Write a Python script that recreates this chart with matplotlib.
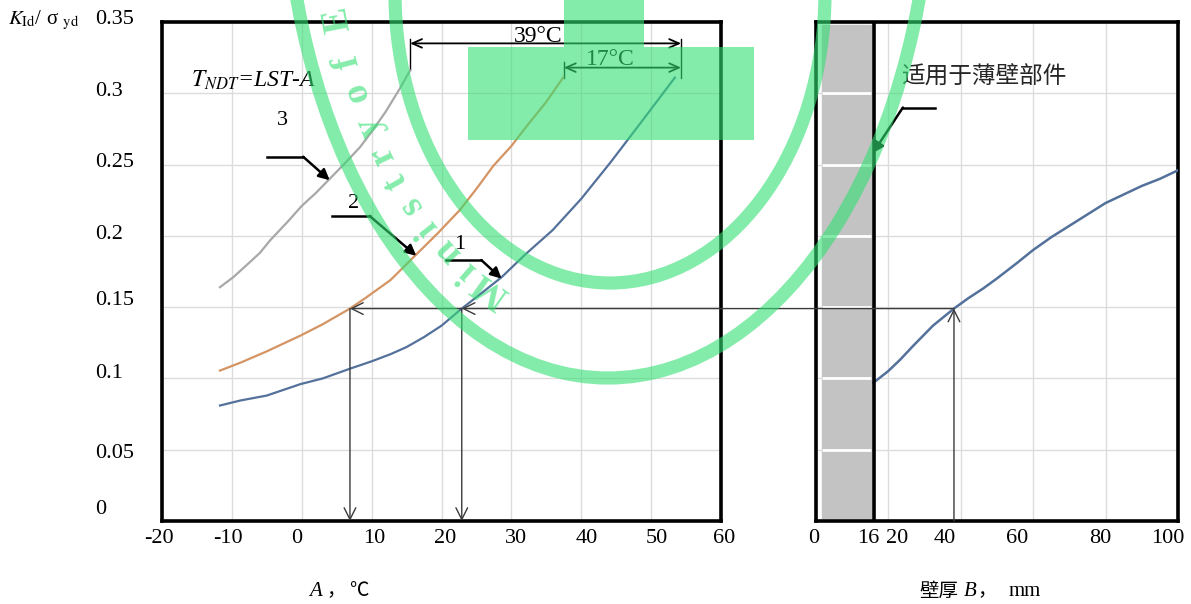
import numpy as np
import matplotlib
matplotlib.use("Agg")
import matplotlib.pyplot as plt
from matplotlib.patches import Ellipse, Polygon, ConnectionPatch

plt.rcParams['font.family'] = ['Liberation Serif', 'Noto Sans CJK SC', 'DejaVu Sans']
plt.rcParams['mathtext.fontset'] = 'stix'

# ---------------- data ----------------
temp_1 = [-11.7, -8.8, -5, -0.2, 3, 7.0, 10, 12.7, 15, 17.5, 20, 22.9, 25, 28.6, 32, 35.9, 40, 44.1, 48, 53.4]
ratio_1 = [0.081, 0.0845, 0.088, 0.096, 0.100, 0.107, 0.112, 0.117, 0.122, 0.129, 0.137, 0.149, 0.157,
           0.171, 0.187, 0.204, 0.226, 0.251, 0.276, 0.311]

temp_2 = [-11.7, -8.8, -5, -0.2, 3, 6.9, 9, 12.7, 16.4, 19.5, 22.6, 25, 27.4, 30, 32.2, 35, 37.4]
ratio_2 = [0.1055, 0.111, 0.119, 0.130, 0.138, 0.149, 0.156, 0.169, 0.187, 0.202, 0.218, 0.233, 0.249,
           0.263, 0.277, 0.294, 0.311]

temp_3 = [-11.7, -9.8, -8, -6, -4.5, -2, 0, 2, 4, 6, 8.3, 10, 12, 14, 15.5]
ratio_3 = [0.164, 0.171, 0.179, 0.188, 0.197, 0.210, 0.221, 0.230, 0.240, 0.250, 0.262, 0.273, 0.287,
           0.303, 0.316]

wall_B = [16, 20, 23.3, 27, 32.4, 38.2, 42, 46.2, 50, 55.6, 60, 65, 70, 75, 80, 85, 90, 95, 100]
ratio_B = [0.097, 0.105, 0.113, 0.123, 0.137, 0.149, 0.156, 0.163, 0.170, 0.181, 0.190, 0.199, 0.207,
           0.215, 0.223, 0.229, 0.235, 0.240, 0.246]

x_ticks_A = [-20, -10, 0, 10, 20, 30, 40, 50, 60]
x_ticks_B = [0, 16, 20, 40, 60, 80, 100]
y_ticks = [0, 0.05, 0.1, 0.15, 0.2, 0.25, 0.3, 0.35]
y_tick_labels = ['0', '0.05', '0.1', '0.15', '0.2', '0.25', '0.3', '0.35']

ref_B = 38.2
ref_ratio = 0.149
ref_A = [6.9, 22.9]
thin_wall_B = 16
dim_39 = (15.5, 54.3)
dim_17 = (37.5, 54.3)

# ---------------- figure ----------------
W, H = 1191, 604
fig = plt.figure(figsize=(W / 100, H / 100), dpi=100)
ax1 = fig.add_axes([162 / W, (H - 521) / H, (721 - 162) / W, (521 - 22) / H])
ax2 = fig.add_axes([815.5 / W, (H - 521) / H, (1178 - 815.5) / W, (521 - 22) / H])

blue = '#53719b'
orange = '#d49463'
gray = '#a8a8a8'
grid_c = '#dcdcdc'
PX = 0.72  # points per pixel at dpi 100

for ax in (ax1, ax2):
    ax.set_ylim(0, 0.35)
    ax.set_yticks(y_ticks)
    ax.grid(True, color=grid_c, lw=1.0, zorder=0)
    ax.set_axisbelow(True)
    for s in ax.spines.values():
        s.set_linewidth(2.6)
        s.set_color('black')
    ax.tick_params(length=0, labelbottom=False, labelleft=False)

ax1.set_xlim(-20, 60)
ax1.set_xticks(x_ticks_A)
ax2.set_xlim(0, 100)
ax2.set_xticks(x_ticks_B)

# tick labels (drawn as texts so that the small offsets of the original can be kept)
xoff_A = [-3, -4, -5, 3, 4, 5, 6, 6, 3]
for v, dx in zip(x_ticks_A, xoff_A):
    ax1.annotate(str(v), xy=(v, 0), xycoords=('data', 'axes fraction'), xytext=(dx * PX, -8 * PX),
                 textcoords='offset points', ha='center', va='top', fontsize=16, annotation_clip=False)
xoff_B = [-2, -5, 9, -16, -16, -5, -10]
for v, dx in zip(x_ticks_B, xoff_B):
    ax2.annotate(str(v), xy=(v, 0), xycoords=('data', 'axes fraction'), xytext=(dx * PX, -8 * PX),
                 textcoords='offset points', ha='center', va='top', fontsize=16, annotation_clip=False)
yoff = [12, -4, 5, 7, 1, 2, 2, 2]
for v, lab, dy in zip(y_ticks, y_tick_labels, yoff):
    ax1.annotate(lab, xy=(0, v), xycoords=('axes fraction', 'data'), xytext=(-67 * PX, dy * PX),
                 textcoords='offset points', ha='left', va='center', fontsize=16, annotation_clip=False)

# left panel curves
ax1.plot(temp_1, ratio_1, color=blue, lw=1.6, zorder=3)
ax1.plot(temp_2, ratio_2, color=orange, lw=1.6, zorder=3)
ax1.plot(temp_3, ratio_3, color=gray, lw=1.6, zorder=3)

# curve labels with leaders
leader_kw = dict(arrowstyle='-|>', color='black', lw=1.8, mutation_scale=16,
                 shrinkA=0, shrinkB=0)
ax1.plot([-5.0, 0.2], [0.2555, 0.2555], color='black', lw=1.8, zorder=4)
ax1.annotate('', xy=(4.0, 0.239), xytext=(0.2, 0.2555), arrowprops=leader_kw, zorder=4)
ax1.text(-2.7, 0.281, '3', fontsize=16, ha='center', va='center')
ax1.plot([4.4, 9.7], [0.214, 0.214], color='black', lw=1.8, zorder=4)
ax1.annotate('', xy=(16.4, 0.186), xytext=(9.7, 0.214), arrowprops=leader_kw, zorder=4)
ax1.text(7.4, 0.223, '2', fontsize=16, ha='center', va='center')
ax1.plot([20.7, 25.7], [0.183, 0.183], color='black', lw=1.8, zorder=4)
ax1.annotate('', xy=(28.6, 0.170), xytext=(25.7, 0.183), arrowprops=leader_kw, zorder=4)
ax1.text(22.6, 0.1936, '1', fontsize=16, ha='center', va='center')

ax1.text(-15.85, 0.309, r'$T_{NDT}$=LST-A', fontsize=17, style='italic', ha='left', va='center')

# temperature difference dimensions
dim_kw = dict(arrowstyle='<->, head_length=0.5, head_width=0.22', color='black', lw=1.3,
              mutation_scale=14, shrinkA=0, shrinkB=0)
ax1.annotate('', xy=(dim_39[0], 0.335), xytext=(dim_39[1], 0.335), arrowprops=dim_kw)
ax1.annotate('', xy=(dim_17[0], 0.318), xytext=(dim_17[1], 0.318), arrowprops=dim_kw)
ax1.plot([dim_39[0], dim_39[0]], [0.338, 0.316], color='black', lw=1.0)
ax1.plot([dim_39[1], dim_39[1]], [0.338, 0.311], color='black', lw=1.0)
ax1.plot([dim_17[0], dim_17[0]], [0.322, 0.311], color='black', lw=1.0)
ax1.text(33.9, 0.3395, '39°C', fontsize=17, ha='center', va='center')
ax1.text(44.2, 0.324, '17°C', fontsize=17, ha='center', va='center')

# right panel
ax2.axvspan(1.8, 15.3, ymin=0.006, ymax=0.994, color='#c3c3c3', zorder=1.5)
ax2.hlines(y_ticks[1:-1], 1.8, 15.3, color='white', lw=2.0, zorder=1.6)
ax2.axvline(thin_wall_B, color='black', lw=2.6, zorder=4)
ax2.plot(wall_B, ratio_B, color=blue, lw=1.8, zorder=3)
ax2.text(23.6, 0.3114, '适用于薄壁部件', fontsize=17, color='#262626',
         ha='left', va='center', family=['Noto Sans CJK SC'])
ax2.plot([33, 24.1], [0.290, 0.290], color='black', lw=1.8, zorder=4)
ax2.annotate('', xy=(15.8, 0.258), xytext=(24.1, 0.290), arrowprops=leader_kw, zorder=4)

# reading path: B -> ratio -> temperatures
path_c = '#3a3a3a'
head_kw = dict(arrowstyle='->, head_length=0.6, head_width=0.3', color=path_c, lw=1.0,
               mutation_scale=14, shrinkA=0, shrinkB=0)
ax2.annotate('', xy=(ref_B, ref_ratio), xytext=(ref_B, 0), arrowprops=head_kw, zorder=5)
con = ConnectionPatch(xyA=(ref_B, ref_ratio), coordsA=ax2.transData,
                      xyB=(ref_A[1], ref_ratio), coordsB=ax1.transData, **head_kw)
con.set_zorder(5)
fig.add_artist(con)
ax1.annotate('', xy=(ref_A[0], ref_ratio), xytext=(ref_A[1], ref_ratio), arrowprops=head_kw, zorder=5)
for a in ref_A:
    ax1.annotate('', xy=(a, 0), xytext=(a, ref_ratio), arrowprops=head_kw, zorder=5)

# axis texts
cjk = ['Noto Sans CJK SC']
fig.text(8 / W, 1 - 20 / H, r'$K_{\mathrm{Id}}$/ σ $_{\mathrm{yd}}$', fontsize=15, ha='left', va='center')
ylab = 1 - 591 / H
fig.text(309 / W, ylab, 'A', fontsize=15, style='italic', ha='left', va='center')
fig.text(326 / W, ylab, '，', fontsize=14, ha='left', va='center', family=cjk)
fig.text(349 / W, ylab, '℃', fontsize=14, ha='left', va='center', family=cjk)
fig.text(919 / W, ylab, '壁厚', fontsize=14, ha='left', va='center', family=cjk)
fig.text(964 / W, ylab, 'B', fontsize=15, style='italic', ha='left', va='center')
fig.text(977 / W, ylab, '，', fontsize=14, ha='left', va='center', family=cjk)
fig.text(1009 / W, ylab, 'mm', fontsize=15, ha='left', va='center')

# ---------------- watermark overlay ----------------
ov = fig.add_axes([0, 0, 1, 1], zorder=20)
ov.set_xlim(0, W)
ov.set_ylim(H, 0)
ov.axis('off')
ov.patch.set_alpha(0)
wm = (0.2, 0.88, 0.45)
wa = 0.6
ov.add_patch(Ellipse((610, -7), 430, 580, fill=False, ec=wm, lw=9.5, alpha=wa))
ov.add_patch(Ellipse((608, -147), 648, 1050, fill=False, ec=wm, lw=9.5, alpha=wa))
ov.add_patch(Polygon([(468, 47), (564, 47), (564, 0), (644, 0), (644, 47), (754, 47),
                      (754, 140), (468, 140)], closed=True, fc=wm, ec='none', alpha=wa))
# stamp text along an ellipse
cx, cy, ea, eb = 610, -100, 283, 430
tt = np.radians(np.linspace(110, 200, 4000))
px = cx + ea * np.cos(tt)
py = cy + eb * np.sin(tt)
seg = np.hypot(np.diff(px), np.diff(py))
arc = np.concatenate([[0], np.cumsum(seg)])
s0 = np.interp(np.radians(114.9), tt, arc)
letters = ['M', 'i', 'n', 'i', 's', 't', 'r', 'y', 'o', 'f', 'E']
offsets = [0, 30, 59, 88, 117, 146, 176, 206, 243, 275, 318]
for ch, off in zip(letters, offsets):
    t = np.interp(s0 + off, arc, tt)
    x = cx + ea * np.cos(t)
    y = cy + eb * np.sin(t)
    ang = np.degrees(np.arctan2(-eb * np.cos(t), -ea * np.sin(t)))
    ov.text(x, y, ch, rotation=ang, rotation_mode='anchor', ha='center', va='center',
            fontsize=27, fontweight='bold', color=wm, alpha=wa, family=['Liberation Serif'])

fig.savefig('out.png', dpi=100)
